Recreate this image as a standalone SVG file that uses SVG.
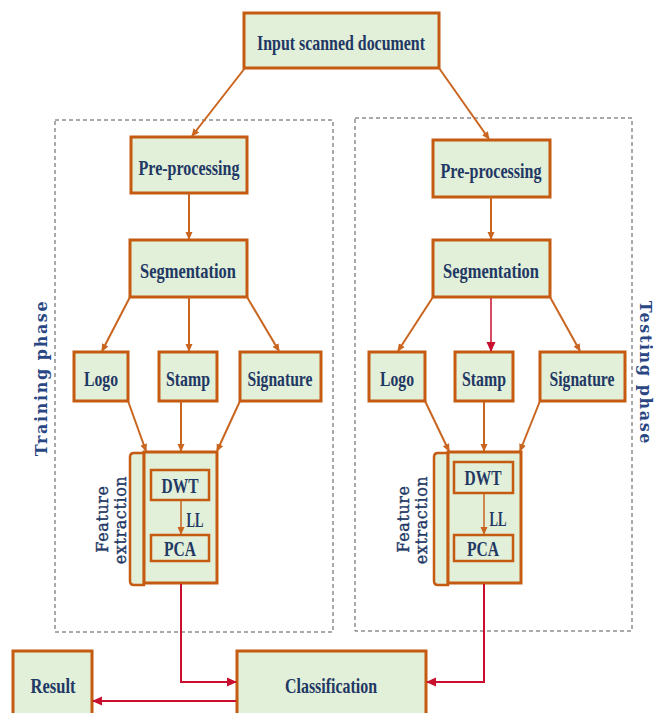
<svg xmlns="http://www.w3.org/2000/svg" width="655" height="713" viewBox="0 0 655 713">
<style>
.box{fill:#e2efd9;stroke:#c55a11;stroke-width:3}
.ibox{fill:#e2efd9;stroke:#c55a11;stroke-width:2.5}
.t{font-family:"Liberation Serif",serif;font-weight:bold;fill:#1f3864;text-anchor:middle;dominant-baseline:central;font-size:22px}
.ts{font-family:"Liberation Serif",serif;font-weight:bold;fill:#1f3864;text-anchor:middle;dominant-baseline:central;font-size:20px}
.ph{font-family:"DejaVu Serif",serif;font-weight:bold;fill:#2a4784;text-anchor:middle;dominant-baseline:central;font-size:16px;letter-spacing:1.6px}
.fe{font-family:"DejaVu Serif",serif;fill:#1f3864;text-anchor:middle;dominant-baseline:central;font-size:16px;letter-spacing:0.6px;stroke:#1f3864;stroke-width:0.4}
.dash{fill:none;stroke:#555;stroke-width:1;stroke-dasharray:4,3}
.c{fill:none;stroke:#c9651f;stroke-width:2;marker-end:url(#ao)}
.r{fill:none;stroke:#c8102e;stroke-width:2;marker-end:url(#ar)}
.br{fill:#e2efd9;stroke:#c55a11;stroke-width:2.5}
</style>
<defs>
<marker id="ao" markerWidth="8" markerHeight="8" refX="7" refY="4" orient="auto" markerUnits="userSpaceOnUse"><path d="M0,0.5 L8,4 L0,7.5 z" fill="#c9651f"/></marker>
<marker id="ar" markerWidth="10" markerHeight="10" refX="9" refY="5" orient="auto" markerUnits="userSpaceOnUse"><path d="M0,0.5 L10,5 L0,9.5 z" fill="#c8102e"/></marker>
</defs>
<rect width="655" height="713" fill="#ffffff"/>

<g id="training-frame"><rect class="dash" x="55" y="120" width="278" height="512"/></g>
<g id="testing-frame"><rect class="dash" x="355" y="118" width="277" height="513"/></g>
<text class="ph" transform="translate(41,378) rotate(-90)">Training phase</text>
<text class="ph" transform="translate(645,373) rotate(90)">Testing phase</text>

<g id="input"><rect class="box" x="244" y="13" width="195" height="55"/><text class="t" x="341" y="42" textLength="168" lengthAdjust="spacingAndGlyphs">Input scanned document</text></g>

<g id="pre-left"><rect class="box" x="131" y="137" width="116" height="56"/><text class="t" x="189" y="167" textLength="101" lengthAdjust="spacingAndGlyphs">Pre-processing</text></g>
<g id="pre-right"><rect class="box" x="433" y="140" width="117" height="57"/><text class="t" x="491" y="170" textLength="101" lengthAdjust="spacingAndGlyphs">Pre-processing</text></g>

<g id="seg-left"><rect class="box" x="130" y="240" width="117" height="57"/><text class="t" x="188" y="270" textLength="96" lengthAdjust="spacingAndGlyphs">Segmentation</text></g>
<g id="seg-right"><rect class="box" x="433" y="240" width="117" height="57"/><text class="t" x="491" y="270" textLength="96" lengthAdjust="spacingAndGlyphs">Segmentation</text></g>

<g id="logo-left"><rect class="box" x="74" y="352" width="54" height="49"/><text class="t" x="101" y="378" textLength="34" lengthAdjust="spacingAndGlyphs">Logo</text></g>
<g id="stamp-left"><rect class="box" x="159" y="352" width="58" height="49"/><text class="t" x="188" y="378" textLength="44" lengthAdjust="spacingAndGlyphs">Stamp</text></g>
<g id="sig-left"><rect class="box" x="240" y="352" width="81" height="49"/><text class="t" x="280" y="378" textLength="65" lengthAdjust="spacingAndGlyphs">Signature</text></g>
<g id="logo-right"><rect class="box" x="369" y="352" width="56" height="49"/><text class="t" x="397" y="378" textLength="34" lengthAdjust="spacingAndGlyphs">Logo</text></g>
<g id="stamp-right"><rect class="box" x="455" y="352" width="58" height="49"/><text class="t" x="484" y="378" textLength="44" lengthAdjust="spacingAndGlyphs">Stamp</text></g>
<g id="sig-right"><rect class="box" x="540" y="352" width="85" height="49"/><text class="t" x="582" y="378" textLength="65" lengthAdjust="spacingAndGlyphs">Signature</text></g>

<g id="fe-left">
<path class="br" d="M144,453 L134,453 Q130,453 130,457 L130,581 Q130,585 134,585 L144,585 z"/>
<rect class="box" x="144" y="452" width="73" height="131"/>
<rect class="ibox" x="151" y="470" width="58" height="30"/>
<text class="ts" x="180" y="486" textLength="37" lengthAdjust="spacingAndGlyphs">DWT</text>
<text class="ts" x="195" y="520" textLength="17" lengthAdjust="spacingAndGlyphs">LL</text>
<rect class="ibox" x="151" y="535" width="58" height="26"/>
<text class="ts" x="180" y="549" textLength="32" lengthAdjust="spacingAndGlyphs">PCA</text>
<text class="fe" transform="translate(102,519) rotate(-90)">Feature</text>
<text class="fe" transform="translate(120,520) rotate(-90)">extraction</text>
</g>

<g id="fe-right">
<path class="br" d="M448,453 L438,453 Q434,453 434,457 L434,581 Q434,585 438,585 L448,585 z"/>
<rect class="box" x="448" y="452" width="73" height="131"/>
<rect class="ibox" x="454" y="462" width="59" height="31"/>
<text class="ts" x="483" y="478" textLength="37" lengthAdjust="spacingAndGlyphs">DWT</text>
<text class="ts" x="498" y="519" textLength="17" lengthAdjust="spacingAndGlyphs">LL</text>
<rect class="ibox" x="454" y="535" width="59" height="26"/>
<text class="ts" x="483" y="549" textLength="32" lengthAdjust="spacingAndGlyphs">PCA</text>
<text class="fe" transform="translate(403,519) rotate(-90)">Feature</text>
<text class="fe" transform="translate(421,520) rotate(-90)">extraction</text>
</g>

<g id="classification"><rect class="box" x="237" y="651" width="189" height="70"/><text class="t" x="331" y="685" textLength="92" lengthAdjust="spacingAndGlyphs">Classification</text></g>
<g id="result"><rect class="box" x="13" y="651" width="79" height="70"/><text class="t" x="53" y="685" textLength="45" lengthAdjust="spacingAndGlyphs">Result</text></g>

<g id="connectors">
<line class="c" x1="245" y1="68" x2="192" y2="136"/>
<line class="c" x1="439" y1="68" x2="489" y2="139"/>
<line class="c" x1="189" y1="194" x2="189" y2="239"/>
<line class="c" x1="491" y1="197" x2="491" y2="239"/>
<line class="c" x1="130" y1="297" x2="102" y2="351"/>
<line class="c" x1="189" y1="297" x2="189" y2="351"/>
<line class="c" x1="247" y1="297" x2="279" y2="351"/>
<line class="c" x1="433" y1="297" x2="398" y2="351"/>
<line class="r" x1="491" y1="298" x2="491" y2="351" style="stroke-width:1.5"/>
<line class="c" x1="550" y1="297" x2="580" y2="351"/>
<line class="c" x1="128" y1="401" x2="146" y2="451"/>
<line class="c" x1="181" y1="402" x2="181" y2="451"/>
<line class="c" x1="240" y1="401" x2="217" y2="451"/>
<line class="c" x1="425" y1="401" x2="449" y2="451"/>
<line class="c" x1="484" y1="402" x2="484" y2="451"/>
<line class="c" x1="540" y1="401" x2="520" y2="451"/>
<line class="c" x1="181" y1="501" x2="181" y2="534" style="stroke-width:1.5"/>
<line class="c" x1="484" y1="494" x2="484" y2="534" style="stroke-width:1.5"/>
<polyline class="r" points="181,584 181,682 236,682"/>
<polyline class="r" points="484,584 484,682 427,682"/>
<line class="r" x1="236" y1="701" x2="93" y2="701"/>
</g>
</svg>
